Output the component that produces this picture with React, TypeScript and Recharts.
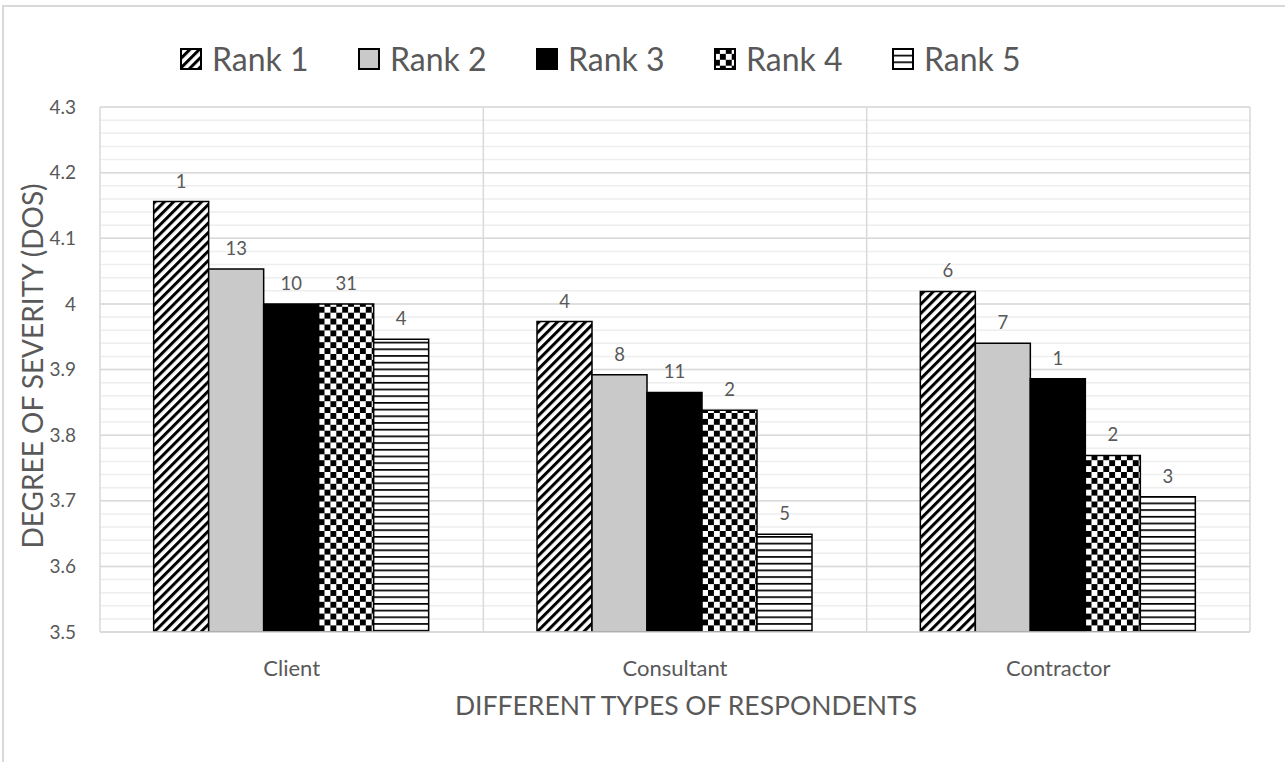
import { BarChart, Bar, XAxis, YAxis, CartesianGrid, LabelList } from 'recharts'

const categories = ['Client', 'Consultant', 'Contractor']
const rank1 = [4.156, 3.973, 4.019]
const rank2 = [4.053, 3.892, 3.94]
const rank3 = [4.0, 3.865, 3.886]
const rank4 = [4.0, 3.838, 3.769]
const rank5 = [3.946, 3.649, 3.706]
const rank1Labels = [1, 4, 6]
const rank2Labels = [13, 8, 7]
const rank3Labels = [10, 11, 1]
const rank4Labels = [31, 2, 2]
const rank5Labels = [4, 5, 3]
const majorTicks = [3.5, 3.6, 3.7, 3.8, 3.9, 4.0, 4.1, 4.2, 4.3]
const minorTicks = Array.from({ length: 41 }, (_, i) => Math.round((3.5 + i * 0.02) * 100) / 100)

const data = categories.map((name, i) => ({
    name,
    r1: rank1[i], r2: rank2[i], r3: rank3[i], r4: rank4[i], r5: rank5[i],
    l1: rank1Labels[i], l2: rank2Labels[i], l3: rank3Labels[i], l4: rank4Labels[i], l5: rank5Labels[i],
}))

const FONT = 'Lato, "Open Sans", sans-serif'
const TEXT = '#595959'

const series = [
    { key: 'r1', label: 'l1', name: 'Rank 1', fill: 'url(#rank1)' },
    { key: 'r2', label: 'l2', name: 'Rank 2', fill: '#c9c9c9' },
    { key: 'r3', label: 'l3', name: 'Rank 3', fill: '#000000' },
    { key: 'r4', label: 'l4', name: 'Rank 4', fill: 'url(#rank4)' },
    { key: 'r5', label: 'l5', name: 'Rank 5', fill: 'url(#rank5)' },
]

function Patterns() {
    return (
        <svg width={0} height={0} style={{ position: 'absolute' }}>
            <defs>
                <pattern id="rank1" patternUnits="userSpaceOnUse" width={6.6} height={6.6} patternTransform="rotate(45)">
                    <rect width={6.6} height={6.6} fill="#fff" />
                    <rect width={3} height={6.6} fill="#000" />
                </pattern>
                <pattern id="rank4" patternUnits="userSpaceOnUse" width={11.8} height={11.8}>
                    <rect width={11.8} height={11.8} fill="#fff" />
                    <rect width={5.9} height={5.9} fill="#000" />
                    <rect x={5.9} y={5.9} width={5.9} height={5.9} fill="#000" />
                </pattern>
                <pattern id="rank5" patternUnits="userSpaceOnUse" width={8} height={6.7}>
                    <rect width={8} height={6.7} fill="#fff" />
                    <rect y={0} width={8} height={1.7} fill="#000" />
                </pattern>
            </defs>
        </svg>
    )
}

export default function App() {
    return (
        <div style={{ position: 'relative', width: 1285, height: 762, overflow: 'hidden', background: '#fff', fontFamily: FONT }}>
            <style>{'body{margin:0}'}</style>
            <Patterns />
            <div style={{ position: 'absolute', left: 2, top: 5, width: 1400, height: 900, border: '2px solid #d9d9d9' }} />

            <div style={{ position: 'absolute', left: 180, top: 39, display: 'flex', color: TEXT, fontSize: 32 }}>
                {series.map((s) => (
                    <div key={s.key} style={{ width: 178, display: 'flex', alignItems: 'center' }}>
                        <svg width={22} height={22} style={{ marginRight: 10 }}>
                            <rect x={1} y={1} width={20} height={20} fill={s.fill} stroke="#000" strokeWidth={2} />
                        </svg>
                        <span>{s.name}</span>
                    </div>
                ))}
            </div>

            <div style={{ position: 'absolute', left: 0, top: 0 }}>
                <BarChart
                    width={1285}
                    height={762}
                    data={data}
                    margin={{ top: 107, right: 35, bottom: 80, left: 40 }}
                    barGap={0}
                    barCategoryGap="14%"
                >
                    <CartesianGrid yAxisId="minor" stroke="#eeeeee" strokeWidth={1.5} vertical={false} />
                    <CartesianGrid
                        stroke="#d9d9d9"
                        strokeWidth={1.5}
                        verticalCoordinatesGenerator={({ offset }: any) =>
                            [0, 1, 2, 3].map((i) => offset.left + (i * offset.width) / 3)
                        }
                    />
                    <XAxis
                        dataKey="name"
                        axisLine={{ stroke: '#d9d9d9', strokeWidth: 1.5 }}
                        tickLine={false}
                        tick={{ fill: TEXT, fontSize: 22, fontFamily: FONT }}
                        tickMargin={22}
                        height={50}
                    />
                    <YAxis
                        domain={[3.5, 4.3]}
                        ticks={majorTicks}
                        interval={0}
                        allowDataOverflow
                        axisLine={false}
                        tickLine={false}
                        width={60}
                        tickMargin={18}
                        tick={{ fill: TEXT, fontSize: 19, fontFamily: FONT }}
                        tickFormatter={(v: number) => String(Number(v.toFixed(1)))}
                    />
                    <YAxis yAxisId="minor" hide domain={[3.5, 4.3]} ticks={minorTicks} interval={0} allowDataOverflow />
                    {series.map((s) => (
                        <Bar key={s.key} dataKey={s.key} name={s.name} fill={s.fill} stroke="#000" strokeWidth={1.5} isAnimationActive={false}>
                            <LabelList dataKey={s.label} position="top" offset={14} fill={TEXT} fontSize={18.5} fontFamily={FONT} />
                        </Bar>
                    ))}
                </BarChart>
            </div>

            <div style={{ position: 'absolute', left: 0, width: 1285, paddingLeft: 122, paddingRight: 35, boxSizing: 'border-box', top: 689, textAlign: 'center', color: TEXT, fontSize: 26.5 }}>
                DIFFERENT TYPES OF RESPONDENTS
            </div>
            <div style={{ position: 'absolute', left: 32, top: 366, transform: 'translate(-50%, -50%) rotate(-90deg)', whiteSpace: 'nowrap', color: TEXT, fontSize: 28 }}>
                DEGREE OF SEVERITY (DOS)
            </div>
        </div>
    )
}
